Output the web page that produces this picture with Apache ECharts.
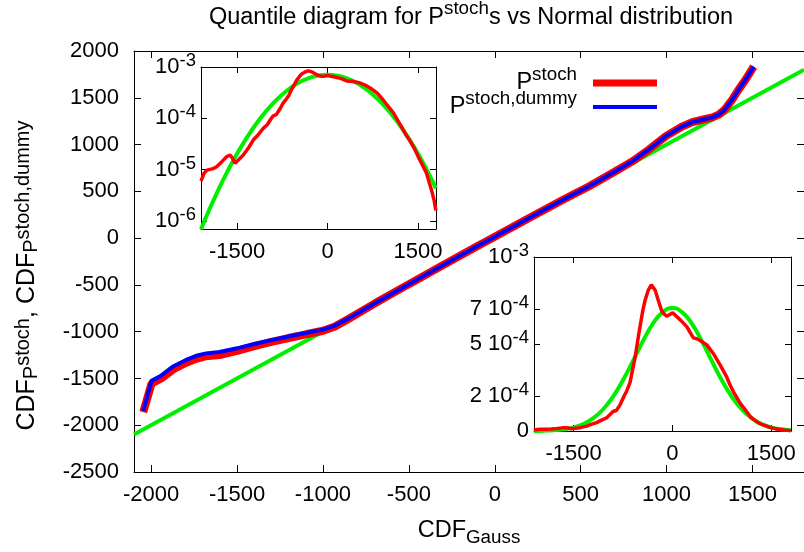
<!DOCTYPE html>
<html>
<head>
<meta charset="utf-8">
<script src="https://cdn.jsdelivr.net/npm/echarts@6/dist/echarts.min.js"></script>
<style>html,body{margin:0;padding:0;background:#fff}#c{width:804px;height:552px}</style>
</head>
<body>
<div id="c"></div>
<script>
// ---------- data ----------
const mainXTicks = [-2000, -1500, -1000, -500, 0, 500, 1000, 1500];
const insetXTicks = [-1500, 0, 1500];
const inset2YTicks = [0, 2e-4, 5e-4, 7e-4, 1e-3];
const inset2YLabels = ['0', '{b|2 10}{s|-4}', '{b|5 10}{s|-4}', '{b|7 10}{s|-4}', '{b|10}{s|-3}'];

// main plot: Gaussian reference line y = x
const gaussLineX = [-2100, 1800];
const gaussLineY = [-2100, 1800];

// main plot: quantile curves
const cdfX = [-2046,-1998,-1940,-1873,-1800,-1738,-1680,-1603,-1500,-1400,-1300,-1200,-1100,-1000,-930,-850,-700,-500,-300,-100,0,200,400,550,700,800,900,996,1093,1150,1208,1266,1304,1337,1382,1420,1459,1507];
const cdfStoch = [-1860,-1555,-1498,-1405,-1335,-1290,-1262,-1250,-1205,-1155,-1110,-1068,-1028,-990,-945,-862,-700,-492,-288,-85,15,215,412,555,712,820,950,1090,1195,1240,1265,1290,1320,1371,1480,1590,1691,1833];
const cdfDummy = [-1846,-1526,-1468,-1372,-1305,-1258,-1232,-1218,-1178,-1132,-1090,-1052,-1015,-978,-935,-858,-700,-492,-288,-85,15,215,412,555,712,820,950,1090,1195,1240,1265,1290,1320,1371,1480,1590,1691,1833];

// insets: densities
const gaussX = [-2100,-1950,-1800,-1650,-1500,-1350,-1200,-1050,-900,-750,-600,-450,-300,-150,0,150,300,450,600,750,900,1050,1200,1350,1500,1650,1800];
const gaussDens = [6.9e-7,1.79e-6,4.34e-6,9.8e-6,2.06e-5,4.03e-5,7.35e-5,1.25e-4,1.98e-4,2.92e-4,4.01e-4,5.14e-4,6.14e-4,6.82e-4,7.07e-4,6.82e-4,6.14e-4,5.14e-4,4.01e-4,2.92e-4,1.98e-4,1.25e-4,7.35e-5,4.03e-5,2.06e-5,9.8e-6,4.34e-6];
const densX = [-2100,-2050,-2000,-1900,-1840,-1750,-1674,-1619,-1580,-1536,-1480,-1398,-1300,-1233,-1150,-1067,-1000,-946,-901,-850,-794,-735,-693,-642,-600,-567,-513,-491,-450,-415,-365,-320,-263,-213,-162,-120,-86,-40,5,60,116,218,318,370,420,522,622,724,825,868,926,1027,1089,1179,1228,1300,1366,1440,1504,1580,1643,1690,1726,1770,1797];
const densStoch = [6.0e-6,8.5e-6,9.8e-6,1.05e-5,1.14e-5,1.45e-5,1.8e-5,1.93e-5,1.7e-5,1.33e-5,1.55e-5,1.93e-5,2.8e-5,3.78e-5,4.8e-5,6.38e-5,7.5e-5,9.5e-5,1.12e-4,1.18e-4,1.5e-4,2.0e-4,2.3e-4,2.8e-4,3.6e-4,4.2e-4,5.5e-4,6.0e-4,6.9e-4,7.5e-4,8.1e-4,8.4e-4,8.1e-4,7.5e-4,6.9e-4,6.7e-4,6.6e-4,6.7e-4,6.8e-4,6.6e-4,6.4e-4,6.0e-4,5.35e-4,5.3e-4,5.2e-4,4.95e-4,4.45e-4,3.8e-4,3.1e-4,2.7e-4,2.25e-4,1.6e-4,1.3e-4,8.5e-5,6.8e-5,4.8e-5,3.7e-5,2.6e-5,1.8e-5,1.2e-5,8.5e-6,5.5e-6,4.0e-6,2.5e-6,1.6e-6];

// ---------- styling ----------
const FONT = 'Liberation Sans';
const RED = '#ff0000', BLUE = '#0000ff', GREEN = '#00ee00';
const zip = (a, b) => a.map((v, i) => [v, b[i]]);
const T = (o) => Object.assign({fontFamily: FONT, color: '#000', fontWeight: 'normal'}, o);

const tickRich = {
  b: T({fontSize: 22, lineHeight: 30}),
  s: T({fontSize: 18.5, verticalAlign: 'top', height: 18})
};
const titleRich = {
  b: T({fontSize: 23.5, lineHeight: 32}),
  s: T({fontSize: 18.8, verticalAlign: 'top', height: 13})
};
const legendRich = {
  b: T({fontSize: 23.5, lineHeight: 32}),
  s: T({fontSize: 18.8, verticalAlign: 'top', height: 15}),
  g: T({fontSize: 10, width: 11})
};
const xNameRich = {
  b: T({fontSize: 23.5, lineHeight: 32}),
  sub: T({fontSize: 18.8, verticalAlign: 'bottom', height: 19})
};
const yNameRich = {
  b: T({fontSize: 25, lineHeight: 34}),
  sub: T({fontSize: 20, verticalAlign: 'bottom', height: 26}),
  ss: T({fontSize: 20, verticalAlign: 'top', height: 26})
};

function ax(extra, tickLen) {
  const base = {
    type: 'value',
    axisLine: {show: true, onZero: false, lineStyle: {color: '#000', width: 1}},
    axisTick: {show: true, inside: true, length: tickLen || 7, lineStyle: {color: '#000', width: 1}},
    splitLine: {show: false},
    axisLabel: {show: true, color: '#000', fontFamily: FONT, fontSize: 22, formatter: v => String(v)}
  };
  const o = Object.assign({}, base, extra);
  o.axisTick = Object.assign({}, base.axisTick, extra.axisTick || {});
  o.axisLabel = Object.assign({}, base.axisLabel, extra.axisLabel || {});
  return o;
}

const chart = echarts.init(document.getElementById('c'), null, {renderer: 'canvas'});
const option = {
  animation: false,
  backgroundColor: '#fff',
  title: {
    text: '{b|Quantile diagram for P}{s|stoch}{b|s vs Normal distribution}',
    left: 471, top: 2, textAlign: 'center', padding: 0,
    textStyle: {fontWeight: 'normal', rich: titleRich}
  },
  legend: [
    {
      data: [{name: 'P^stoch', icon: 'rect'}],
      right: 147, top: 65, padding: 0, align: 'right', orient: 'vertical',
      itemWidth: 64, itemHeight: 7, selectedMode: false,
      formatter: () => '{b|P}{s|stoch}{g| }',
      textStyle: {rich: legendRich}
    },
    {
      data: [{name: 'P^stoch,dummy', icon: 'rect'}],
      right: 147, top: 89, padding: 0, align: 'right', orient: 'vertical',
      itemWidth: 64, itemHeight: 4, selectedMode: false,
      formatter: () => '{b|P}{s|stoch,dummy}{g| }',
      textStyle: {rich: legendRich}
    }
  ],
  grid: [
    {left: 134, top: 51, width: 675, height: 422, show: false},
    {left: 201, top: 67, width: 235, height: 162, show: true, backgroundColor: '#fff', borderWidth: 0},
    {left: 534, top: 257, width: 257, height: 174, show: true, backgroundColor: '#fff', borderWidth: 0}
  ],
  xAxis: [
    ax({gridIndex: 0, min: -2100, max: 1800, position: 'bottom',
        axisTick: {customValues: mainXTicks}, axisLabel: {customValues: mainXTicks, margin: 12},
        name: '{b|CDF}{sub|Gauss}', nameLocation: 'middle', nameGap: 43,
        nameTextStyle: {rich: xNameRich}}),
    ax({gridIndex: 0, min: -2100, max: 1800, position: 'top',
        axisTick: {customValues: mainXTicks}, axisLabel: {show: false}}),
    ax({gridIndex: 1, min: -2100, max: 1800, position: 'bottom',
        axisTick: {customValues: insetXTicks}, axisLabel: {customValues: insetXTicks, margin: 12}}, 6),
    ax({gridIndex: 1, min: -2100, max: 1800, position: 'top',
        axisTick: {customValues: insetXTicks}, axisLabel: {show: false}}, 6),
    ax({gridIndex: 2, min: -2100, max: 1800, position: 'bottom',
        axisTick: {customValues: insetXTicks}, axisLabel: {customValues: insetXTicks, margin: 12}}, 6),
    ax({gridIndex: 2, min: -2100, max: 1800, position: 'top',
        axisTick: {customValues: insetXTicks}, axisLabel: {show: false}}, 6)
  ],
  yAxis: [
    ax({gridIndex: 0, min: -2500, max: 2000, interval: 500, position: 'left',
        axisLabel: {margin: 15},
        name: '{b|CDF}{sub|P}{ss|stoch}{b|, CDF}{sub|P}{ss|stoch,dummy}',
        nameLocation: 'middle', nameRotate: 90, nameGap: 90,
        nameTextStyle: {rich: yNameRich, padding: [0, 28, 0, 0]}}),
    ax({gridIndex: 0, min: -2500, max: 2000, interval: 500, position: 'right',
        axisLabel: {show: false}}),
    ax({gridIndex: 1, type: 'log', logBase: 10, min: 7e-7, max: 1e-3, position: 'left',
        axisLabel: {margin: 5, showMinLabel: false,
          formatter: v => '{b|10}{s|' + Math.round(Math.log10(v)) + '}', rich: tickRich}}, 6),
    ax({gridIndex: 1, type: 'log', logBase: 10, min: 7e-7, max: 1e-3, position: 'right',
        axisLabel: {show: false}}, 6),
    ax({gridIndex: 2, min: 0, max: 1e-3, position: 'left',
        axisTick: {customValues: inset2YTicks},
        axisLabel: {customValues: inset2YTicks, margin: 5, rich: tickRich,
          formatter: v => {
            let best = 0;
            inset2YTicks.forEach((t, i) => { if (Math.abs(t - v) < Math.abs(inset2YTicks[best] - v)) best = i; });
            return inset2YLabels[best];
          }}}, 6),
    ax({gridIndex: 2, min: 0, max: 1e-3, position: 'right',
        axisTick: {customValues: inset2YTicks}, axisLabel: {show: false}}, 6)
  ],
  series: [
    {type: 'line', name: 'Gauss', xAxisIndex: 0, yAxisIndex: 0, data: zip(gaussLineX, gaussLineY),
     showSymbol: false, lineStyle: {color: GREEN, width: 4}, itemStyle: {color: GREEN}, z: 2},
    {type: 'line', name: 'P^stoch', xAxisIndex: 0, yAxisIndex: 0, data: zip(cdfX, cdfStoch),
     showSymbol: false, lineStyle: {color: RED, width: 8}, itemStyle: {color: RED}, z: 3},
    {type: 'line', name: 'P^stoch,dummy', xAxisIndex: 0, yAxisIndex: 0, data: zip(cdfX, cdfDummy),
     showSymbol: false, lineStyle: {color: BLUE, width: 4}, itemStyle: {color: BLUE}, z: 4},
    {type: 'line', name: 'g1', xAxisIndex: 2, yAxisIndex: 2, data: zip(gaussX, gaussDens), smooth: true,
     showSymbol: false, lineStyle: {color: GREEN, width: 4}, z: 5},
    {type: 'line', name: 'r1', xAxisIndex: 2, yAxisIndex: 2, data: zip(densX, densStoch),
     showSymbol: false, lineStyle: {color: RED, width: 3.5}, z: 6},
    {type: 'line', name: 'g2', xAxisIndex: 4, yAxisIndex: 4, data: zip(gaussX, gaussDens), smooth: true,
     showSymbol: false, lineStyle: {color: GREEN, width: 4}, z: 5},
    {type: 'line', name: 'r2', xAxisIndex: 4, yAxisIndex: 4, data: zip(densX, densStoch),
     showSymbol: false, lineStyle: {color: RED, width: 3.5}, z: 6}
  ]
};
chart.setOption(option);
</script>
</body>
</html>
